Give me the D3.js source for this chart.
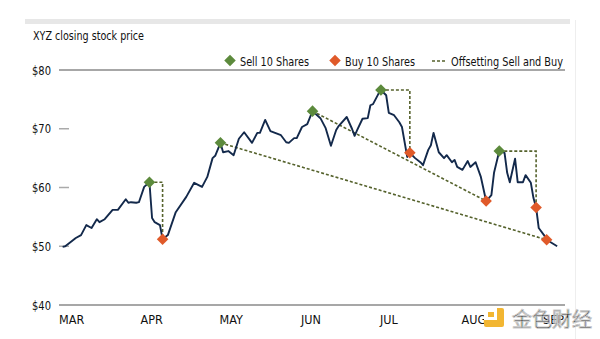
<!DOCTYPE html>
<html><head><meta charset="utf-8">
<script src="https://cdn.jsdelivr.net/npm/d3@7"></script>
<style>
body{margin:0;background:#fff;}
svg{display:block;}
text{font-family:"DejaVu Sans Condensed","Liberation Sans",sans-serif;fill:#111;}
</style></head>
<body><svg id="chart" width="600" height="339"></svg>
<script>
// ---- data ----
const days = [1,2,6,8,10,12,14,15,17,20,22,25,26,27,29,30,32,34,35,36,38,39,41,44,48,51,54,56,58,59,61,62,64,66,68,70,73,75,76,78,80,84,86,87,89,90,92,94,96,99,101,103,105,106,109,111,112,113,115,117,118,119,121,122,124,125,127,129,130,132,133,135,137,138,140,141,142,144,146,147,149,150,151,153,155,156,158,160,162,164,165,167,169,170,171,173,174,176,177,179,180,181,182,184,185,189];
const prices = [49.9,50.0,51.4,51.9,53.6,53.1,54.6,54.1,54.6,56.2,56.2,58.0,57.4,57.5,57.4,57.5,60.1,60.9,54.8,54.1,53.6,51.2,51.9,55.8,58.4,60.8,60.1,61.8,65.0,65.4,67.6,66.0,66.2,65.5,68.3,69.4,67.6,69.3,69.3,71.5,69.6,68.9,67.7,67.6,68.4,68.4,70.3,70.8,73.0,71.8,70.1,67.1,69.8,70.5,72.0,70.0,68.8,69.8,71.7,71.8,74.0,74.2,75.9,76.6,75.7,72.7,72.3,71.1,70.3,65.2,65.9,65.0,64.3,63.8,66.4,67.2,69.3,66.0,65.0,65.5,64.3,64.7,63.5,63.0,64.5,63.5,64.3,61.8,57.7,58.7,62.5,66.2,65.9,62.5,60.9,64.9,60.9,60.9,62.1,60.8,58.2,56.6,53.1,51.9,51.1,50.0];
const sellDays = [34,61,96,122,167];
const buyDays = [39,133,162,181,185];
const stepPairs = [[34,39],[122,133],[167,181]];
const diagPairs = [[61,185],[96,162]];
const months = ["MAR","APR","MAY","JUN","JUL","AUG","SEP"];
const monthStartDays = [0,31,61,92,122,153,184];
const yTicks = [40,50,60,70,80];
const yTickLabels = ["$40","$50","$60","$70","$80"];
const title = "XYZ closing stock price";
const legendLabels = ["Sell 10 Shares","Buy 10 Shares","Offsetting Sell and Buy"];

// ---- drawing ----
const svg = d3.select("#chart");
const x = d3.scaleLinear().domain([0,184]).range([60,544]);
const y = d3.scaleLinear().domain([40,80]).range([305,70]);
const priceAt = d => prices[days.indexOf(d)];
const green = "#5c8a3c", orange = "#e05a2a", navy = "#13294b", dashCol = "#55622c";

// frame
svg.append("rect").attr("x",25).attr("y",19).attr("width",545).attr("height",5).attr("fill","#e7e7e7");
svg.append("line").attr("x1",575.5).attr("x2",575.5).attr("y1",20).attr("y2",339).attr("stroke","#eeeeee").attr("stroke-width",1);

svg.append("text").attr("x",33).attr("y",40).attr("font-size",12.5)
  .attr("textLength",111).attr("lengthAdjust","spacingAndGlyphs").text(title);

// y axis labels and ticks
yTicks.forEach((t,i)=>{
  const full = (t===40||t===80);
  svg.append("line").attr("x1",59).attr("x2",full?565:69)
    .attr("y1",y(t)).attr("y2",y(t))
    .attr("stroke",full?"#8a8a8a":"#aaaaaa").attr("stroke-width",1.5);
  svg.append("text").attr("x",51).attr("y",y(t)+4.5).attr("text-anchor","end")
    .attr("font-size",13).attr("textLength",19).attr("lengthAdjust","spacingAndGlyphs")
    .text(yTickLabels[i]);
});

// x labels
months.forEach((m,i)=>{
  svg.append("text").attr("x",x(monthStartDays[i])-1).attr("y",324)
    .attr("font-size",12.5).text(m);
});

// offsetting dashed lines
const dashed = svg.append("g").attr("fill","none").attr("stroke",dashCol)
  .attr("stroke-width",1.6).attr("stroke-dasharray","3,2");
stepPairs.forEach(([s,b])=>{
  dashed.append("path").attr("d",
    d3.line()([[x(s),y(priceAt(s))],[x(b),y(priceAt(s))],[x(b),y(priceAt(b))]]));
});
diagPairs.forEach(([s,b])=>{
  dashed.append("path").attr("d",
    d3.line()([[x(s),y(priceAt(s))],[x(b),y(priceAt(b))]]));
});

// price line
svg.append("path").datum(days.map((d,i)=>[d,prices[i]]))
  .attr("fill","none").attr("stroke",navy).attr("stroke-width",1.9)
  .attr("stroke-linejoin","round")
  .attr("d",d3.line().x(d=>x(d[0])).y(d=>y(d[1])));

// markers
const diamond = d3.symbol().type(d3.symbolDiamond2).size(85);
svg.append("g").selectAll("path").data(sellDays).join("path")
  .attr("d",diamond).attr("fill",green)
  .attr("transform",d=>`translate(${x(d)},${y(priceAt(d))})`);
svg.append("g").selectAll("path").data(buyDays).join("path")
  .attr("d",diamond).attr("fill",orange)
  .attr("transform",d=>`translate(${x(d)},${y(priceAt(d))})`);

// legend
const lg = svg.append("g");
const legendText = (xx,len,label)=>lg.append("text").attr("x",xx).attr("y",65.5)
  .attr("font-size",12.5).attr("textLength",len).attr("lengthAdjust","spacingAndGlyphs").text(label);
lg.append("path").attr("d",diamond).attr("fill",green).attr("transform","translate(230,60.5)");
legendText(240,69,legendLabels[0]);
lg.append("path").attr("d",diamond).attr("fill",orange).attr("transform","translate(335,60.5)");
legendText(345,70,legendLabels[1]);
lg.append("line").attr("x1",432).attr("x2",447).attr("y1",61).attr("y2",61)
  .attr("stroke",dashCol).attr("stroke-width",1.6).attr("stroke-dasharray","3,2");
legendText(451,112,legendLabels[2]);

// watermark
const wm = svg.append("g");
wm.append("rect").attr("x",484).attr("y",308).attr("width",20).attr("height",19).attr("fill","#f2b632").attr("rx",2);
wm.append("rect").attr("x",484).attr("y",308).attr("width",13).attr("height",12).attr("fill","#ffffff");
wm.append("rect").attr("x",488).attr("y",312).attr("width",6).attr("height",5).attr("fill","#f2b632");
wm.append("text").attr("x",512).attr("y",327).attr("font-size",20)
  .style("font-family","'Noto Sans CJK SC',sans-serif")
  .attr("fill","#ffffff").attr("stroke","#c8c8c8").attr("stroke-width",1)
  .attr("opacity",0.9).text("金色财经");
</script></body></html>
